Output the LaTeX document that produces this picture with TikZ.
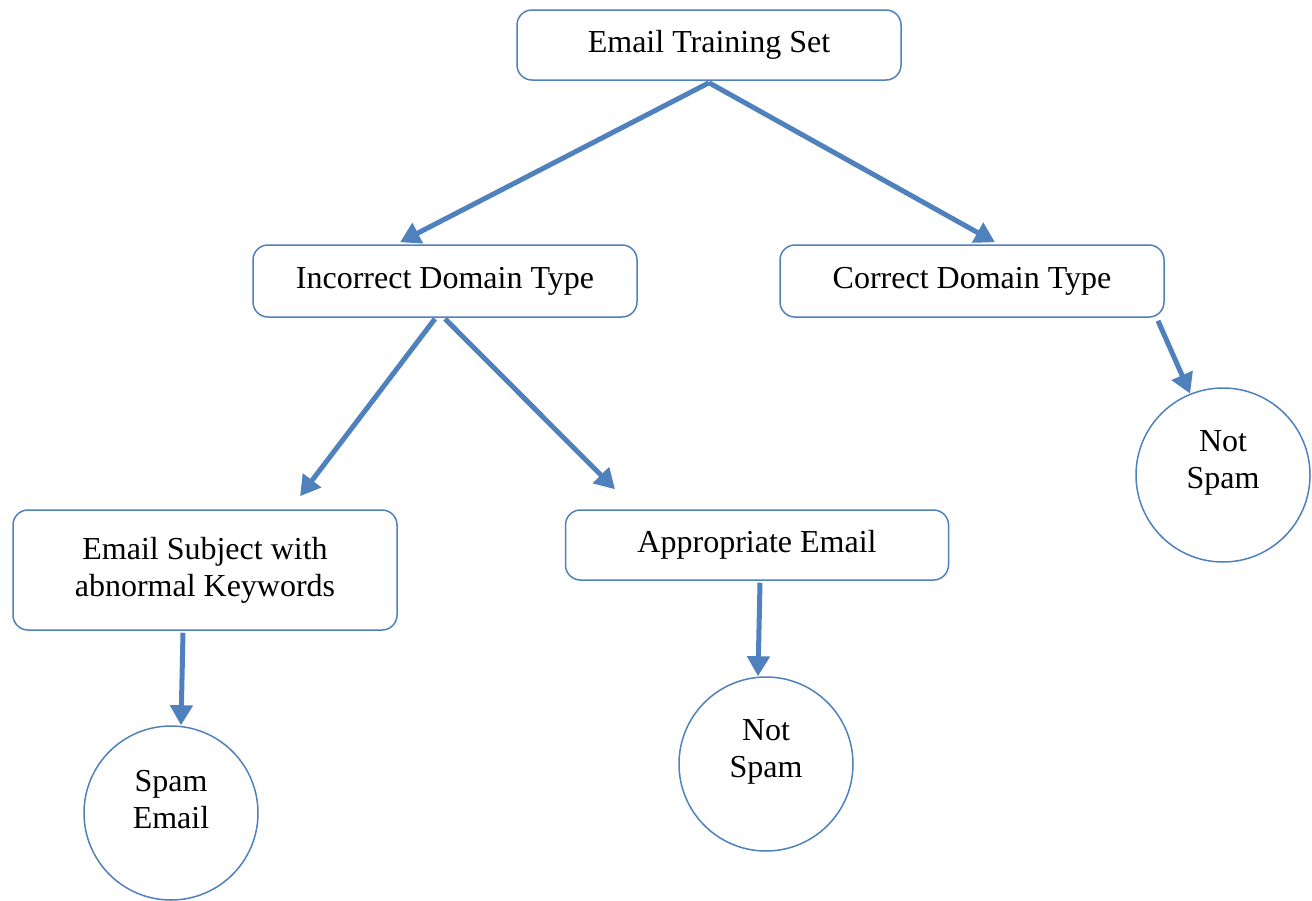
\documentclass[tikz,border=0pt]{standalone}
\usepackage{fontspec}
\setmainfont{Liberation Serif}
\usetikzlibrary{arrows.meta}
\definecolor{ofblue}{HTML}{4F81BD}
\tikzset{
  box/.style={draw=ofblue, line width=1.5pt, rounded corners=15pt, fill=white,
    minimum width=384pt, align=center, font=\fontsize{32}{37}\selectfont},
  circ/.style={draw=ofblue, line width=1.5pt, circle, minimum size=174pt, inner sep=0pt},
  ctext/.style={align=center, font=\fontsize{32}{37}\selectfont, inner sep=0pt},
  arr/.style={draw=ofblue, line width=5pt, -{Triangle[length=20pt,width=22pt]}}
}
\begin{document}
\begin{tikzpicture}[x=1pt,y=-1pt]
\useasboundingbox[fill=white] (0,0) rectangle (1312,900);
\node[box, minimum height=70pt] (top) at (709,45) {Email Training Set};
\node[box, minimum height=72pt] (inc) at (445,281) {Incorrect Domain Type};
\node[box, minimum height=72pt] (cor) at (972,281) {Correct Domain Type};
\node[box, minimum height=120pt] (subj) at (205,570) {Email Subject with\\abnormal Keywords};
\node[box, minimum height=70pt, minimum width=383pt] (app) at (757,545) {Appropriate Email};
\node[circ] (ns1) at (1223,475) {};
\node[ctext] (ns1t) at (1223,463) {Not\\Spam};
\node[circ] (spam) at (171,813) {};
\node[ctext] (spamt) at (171,800) {Spam\\Email};
\node[circ] (ns2) at (766,764) {};
\node[ctext] (ns2t) at (766,752) {Not\\Spam};
\draw[arr] ([yshift=-2pt]top.south) -- ([xshift=-45pt,yshift=2pt]inc.north);
\draw[arr] ([yshift=-2pt]top.south) -- ([xshift=23pt,yshift=2pt]cor.north);
\draw[arr] ([xshift=-10pt,yshift=-1pt]inc.south) -- ([xshift=95pt,yshift=13pt]subj.north);
\draw[arr] ([yshift=-1pt]inc.south) -- ([xshift=-142pt,yshift=20pt]app.north);
\draw[arr] ([xshift=186pt,yshift=-3pt]cor.south) -- (ns1.112);
\draw[arr] ([xshift=-22pt,yshift=-2pt]subj.south) -- ([xshift=10pt]spam.north);
\draw[arr] ([xshift=3pt,yshift=-2pt]app.south) -- ([xshift=-8pt]ns2.north);
\end{tikzpicture}
\end{document}
